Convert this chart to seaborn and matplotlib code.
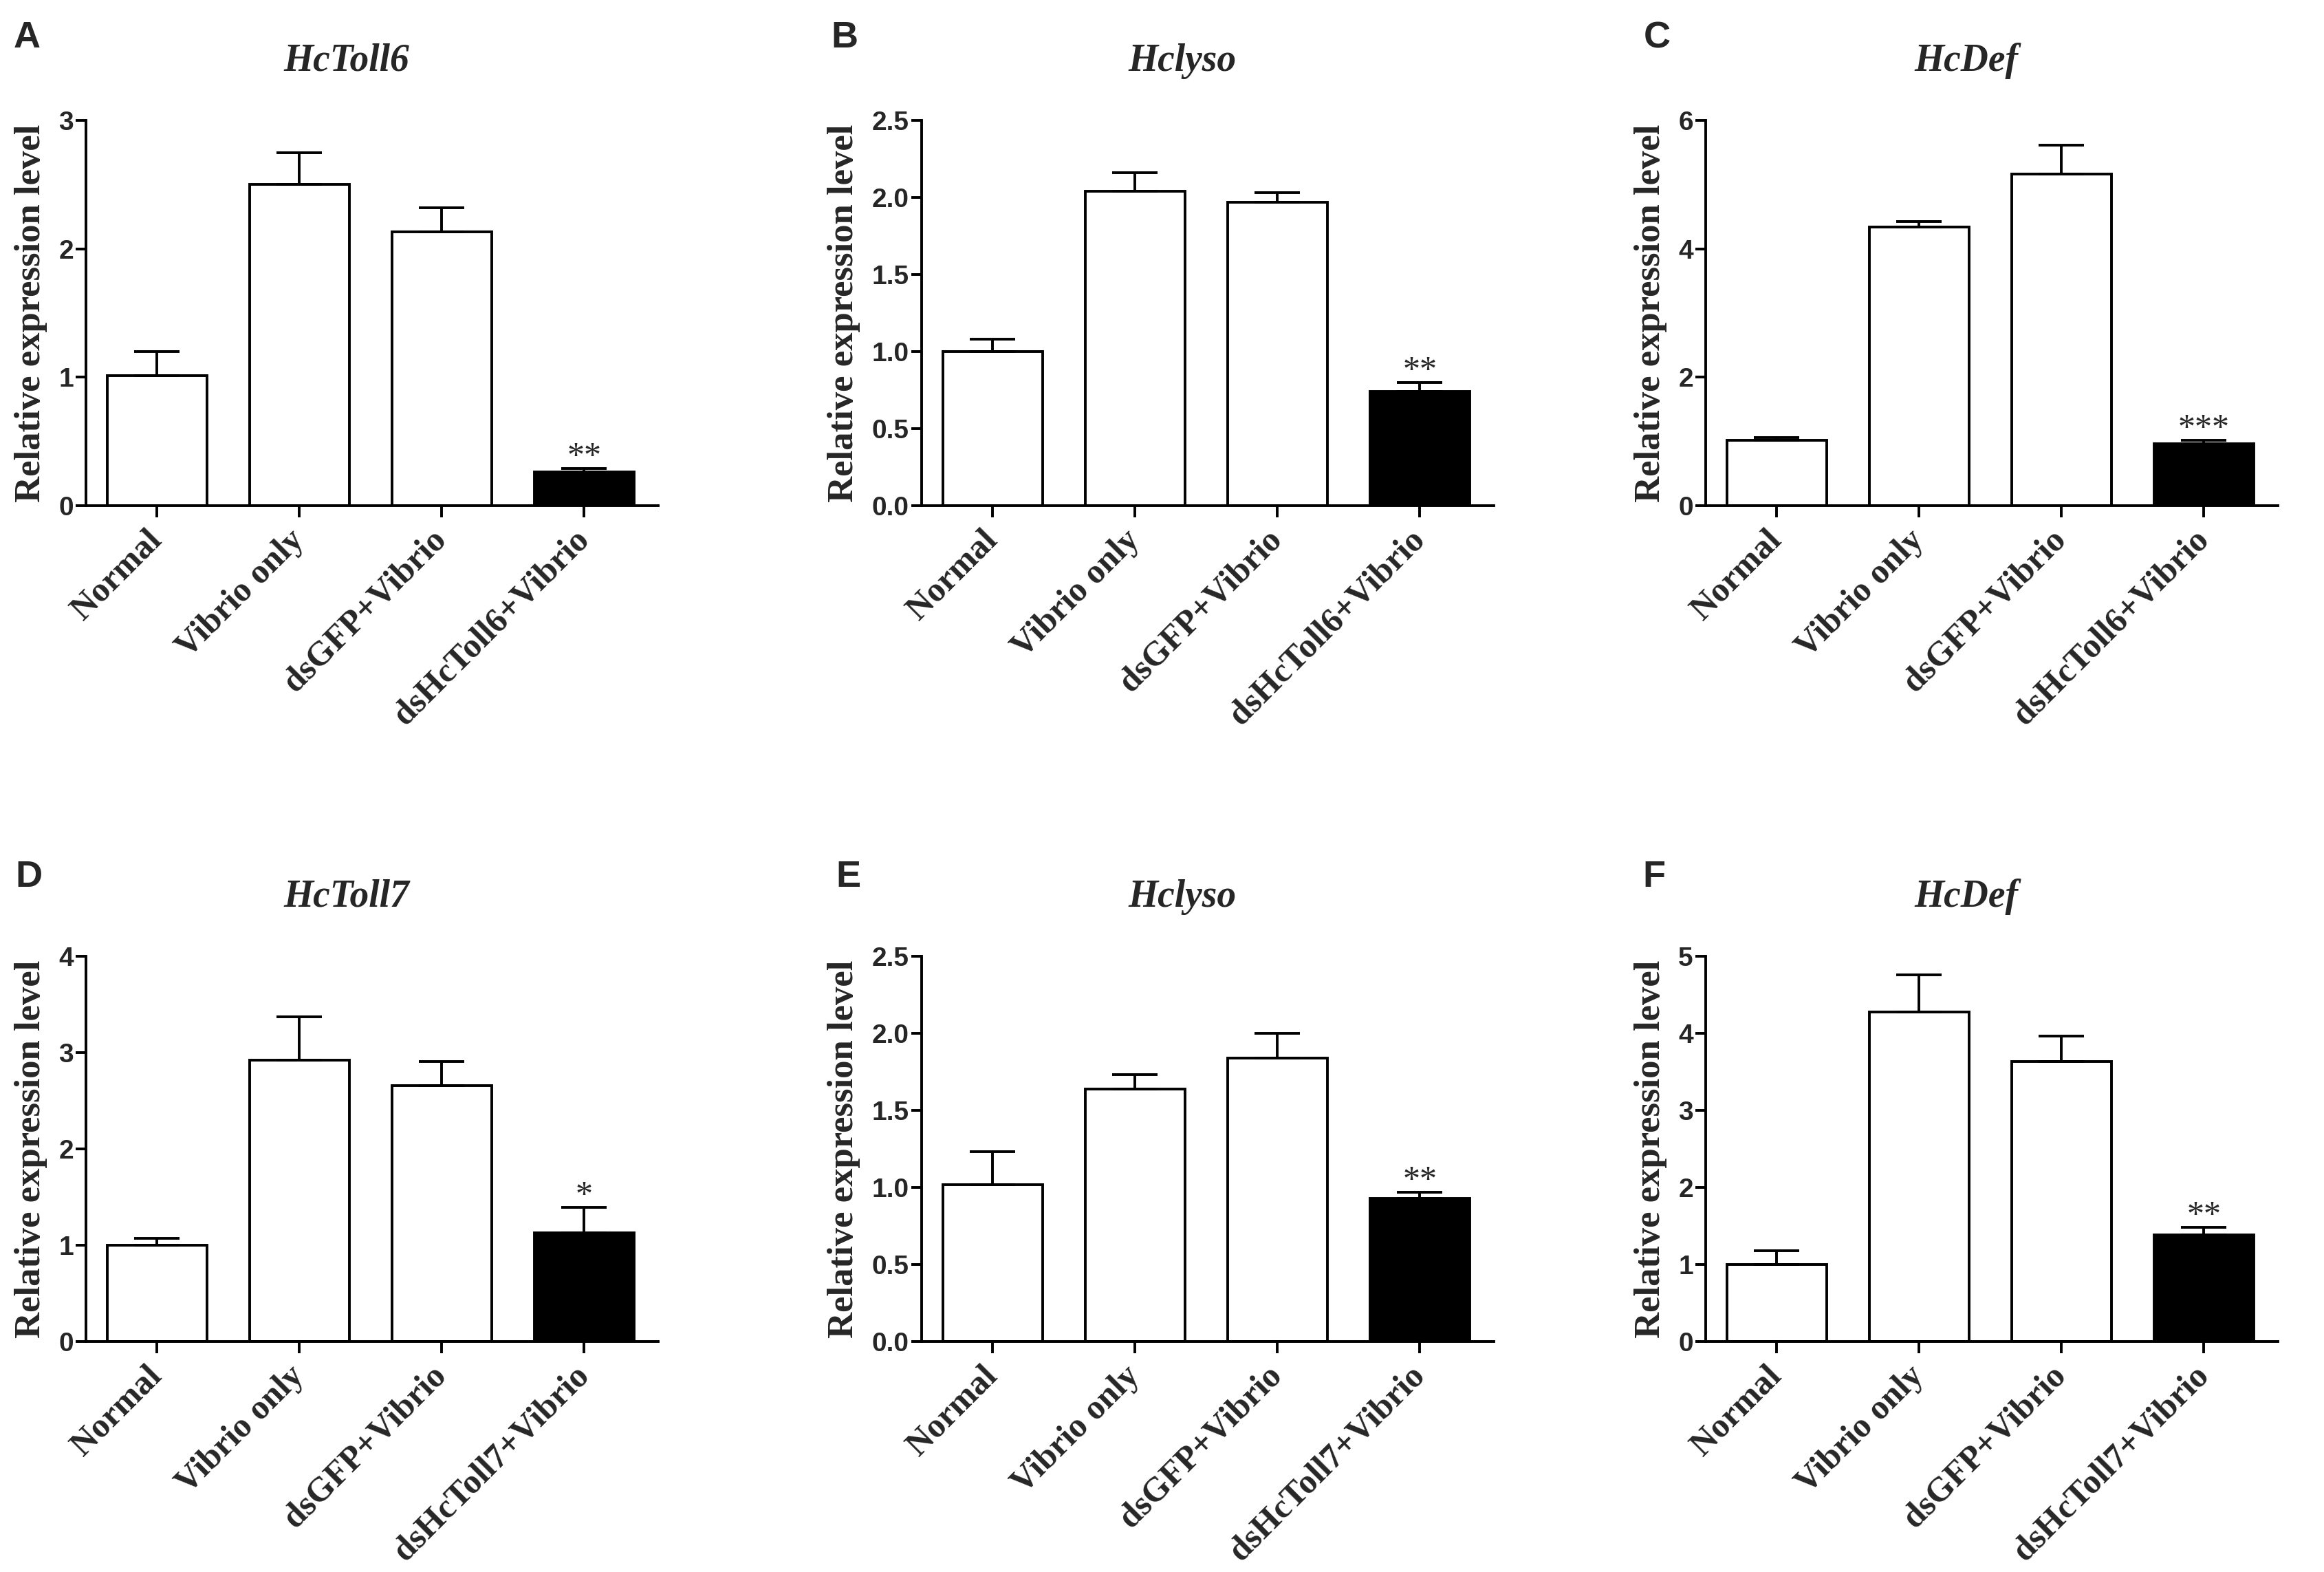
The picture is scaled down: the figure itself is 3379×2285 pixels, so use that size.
import numpy as np
import pandas as pd
import seaborn as sns
import matplotlib.pyplot as plt

# group labels
groups_toll6 = ['Normal', 'Vibrio only', 'dsGFP+Vibrio', 'dsHcToll6+Vibrio']
groups_toll7 = ['Normal', 'Vibrio only', 'dsGFP+Vibrio', 'dsHcToll7+Vibrio']

# relative expression (mean) and upper SEM
a_mean = [1.01, 2.50, 2.13, 0.26]
a_sem = [0.19, 0.25, 0.19, 0.03]
b_mean = [1.00, 2.04, 1.97, 0.74]
b_sem = [0.08, 0.12, 0.06, 0.06]
c_mean = [1.02, 4.34, 5.16, 0.96]
c_sem = [0.04, 0.09, 0.45, 0.06]
d_mean = [1.00, 2.92, 2.66, 1.13]
d_sem = [0.07, 0.45, 0.25, 0.26]
e_mean = [1.02, 1.64, 1.84, 0.93]
e_sem = [0.21, 0.09, 0.16, 0.04]
f_mean = [1.00, 4.28, 3.63, 1.38]
f_sem = [0.18, 0.48, 0.33, 0.10]

titles = ['HcToll6', 'Hclyso', 'HcDef', 'HcToll7', 'Hclyso', 'HcDef']
letters = ['A', 'B', 'C', 'D', 'E', 'F']
stars = ['**', '**', '***', '*', '**', '**']
y_max = [3, 2.5, 6, 4, 2.5, 5]
y_step = [1, 0.5, 2, 1, 0.5, 1]

sns.set_style('ticks')
plt.rcParams['font.family'] = ['Liberation Sans', 'DejaVu Sans']
plt.rcParams['font.weight'] = 'bold'

W, H = 3379, 2285
fig = plt.figure(figsize=(W / 100, H / 100), dpi=100)

panels = [(groups_toll6, a_mean, a_sem), (groups_toll6, b_mean, b_sem),
          (groups_toll6, c_mean, c_sem), (groups_toll7, d_mean, d_sem),
          (groups_toll7, e_mean, e_sem), (groups_toll7, f_mean, f_sem)]

lefts = [125, 1340, 2480]
rows = [(175, 735), (1390, 1950)]
letter_pos = [(20, 69), (1208, 69), (2390, 69), (22, 1289), (1215, 1289), (2388, 1289)]
lw = 2.8

for i, (groups, mean, sem) in enumerate(panels):
    top, bot = rows[i // 3]
    left = lefts[i % 3]
    ax = fig.add_axes([left / W, 1 - bot / H, 832 / W, (bot - top) / H])
    df = pd.DataFrame({'group': groups, 'value': mean})
    sb_pal = ['white', 'white', 'white', 'black']
    sns.barplot(data=df, x='group', y='value', hue='group', palette=sb_pal,
                saturation=1, edgecolor='black', linewidth=lw, width=0.7,
                legend=False, ax=ax)
    x = np.arange(len(groups))
    ax.errorbar(x, mean, yerr=[np.zeros(len(sem)), sem], fmt='none', ecolor='black',
                elinewidth=lw, capsize=24, capthick=lw, zorder=3)
    ax.annotate(stars[i], xy=(3, mean[3] + sem[3]), xytext=(0, 3),
                textcoords='offset points', ha='center', va='baseline',
                fontsize=36, fontweight='normal', family='Liberation Serif')
    ax.set_xlim(-0.5, 3.52)
    ax.set_ylim(0, y_max[i])
    ax.set_yticks(np.arange(0, y_max[i] + y_step[i] / 2, y_step[i]))
    if y_step[i] < 1:
        ax.set_yticklabels(['%.1f' % v for v in ax.get_yticks()])
    else:
        ax.set_yticklabels(['%d' % v for v in ax.get_yticks()])
    ax.set_xticks(x)
    ax.set_xticklabels(groups, rotation=45, ha='right', va='center',
                       rotation_mode='anchor', family='Liberation Serif',
                       fontweight='bold', fontsize=36)
    ax.tick_params(axis='y', labelsize=28, width=lw, length=11, pad=2, color='black')
    ax.tick_params(axis='x', width=lw, length=12, pad=19, color='black')
    ax.set_xlabel('')
    ax.set_ylabel('Relative expression level', family='Liberation Serif',
                  fontweight='bold', fontsize=38, labelpad=12)
    for s in ['left', 'bottom']:
        ax.spines[s].set_linewidth(lw)
        ax.spines[s].set_color('black')
    sns.despine(ax=ax)
    ax.text(0.455, 1.129, titles[i], transform=ax.transAxes, ha='center',
            va='baseline', fontsize=40, fontweight='bold', style='italic',
            family='Liberation Serif')
    lx, ly = letter_pos[i]
    fig.text(lx / W, 1 - ly / H, letters[i], fontsize=39, fontweight='bold',
             family='Liberation Sans', va='baseline')

fig.savefig('out.png', dpi=100, facecolor='white')
